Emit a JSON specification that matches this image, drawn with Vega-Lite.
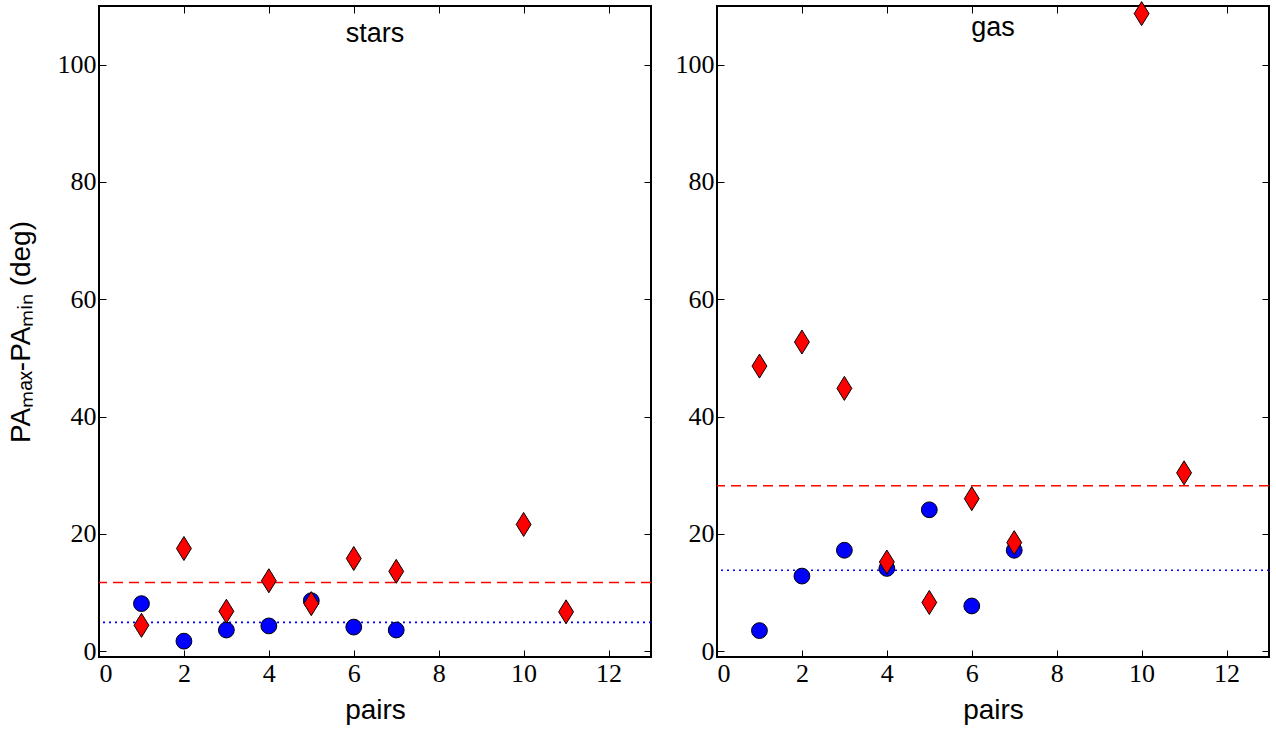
{
  "$schema": "https://vega.github.io/schema/vega-lite/v6.json",
  "background": "white",
  "padding": {"left": 6, "top": -2, "right": 5, "bottom": 5},
  "bounds": "flush",
  "spacing": 66,
  "datasets": {
    "points": [
      {"panel": "stars", "series": "circle", "x": 1, "y": 8.1},
      {"panel": "stars", "series": "circle", "x": 2, "y": 1.7},
      {"panel": "stars", "series": "circle", "x": 3, "y": 3.6},
      {"panel": "stars", "series": "circle", "x": 4, "y": 4.3},
      {"panel": "stars", "series": "circle", "x": 5, "y": 8.6},
      {"panel": "stars", "series": "circle", "x": 6, "y": 4.1},
      {"panel": "stars", "series": "circle", "x": 7, "y": 3.6},
      {"panel": "stars", "series": "diamond", "x": 1, "y": 4.4},
      {"panel": "stars", "series": "diamond", "x": 2, "y": 17.5},
      {"panel": "stars", "series": "diamond", "x": 3, "y": 6.8},
      {"panel": "stars", "series": "diamond", "x": 4, "y": 12.0},
      {"panel": "stars", "series": "diamond", "x": 5, "y": 8.1},
      {"panel": "stars", "series": "diamond", "x": 6, "y": 15.8},
      {"panel": "stars", "series": "diamond", "x": 7, "y": 13.6},
      {"panel": "stars", "series": "diamond", "x": 10, "y": 21.6},
      {"panel": "stars", "series": "diamond", "x": 11, "y": 6.7},
      {"panel": "gas", "series": "circle", "x": 1, "y": 3.5},
      {"panel": "gas", "series": "circle", "x": 2, "y": 12.8},
      {"panel": "gas", "series": "circle", "x": 3, "y": 17.2},
      {"panel": "gas", "series": "circle", "x": 4, "y": 14.1},
      {"panel": "gas", "series": "circle", "x": 5, "y": 24.1},
      {"panel": "gas", "series": "circle", "x": 6, "y": 7.7},
      {"panel": "gas", "series": "circle", "x": 7, "y": 17.2},
      {"panel": "gas", "series": "diamond", "x": 1, "y": 48.6},
      {"panel": "gas", "series": "diamond", "x": 2, "y": 52.7},
      {"panel": "gas", "series": "diamond", "x": 3, "y": 44.8},
      {"panel": "gas", "series": "diamond", "x": 4, "y": 15.2},
      {"panel": "gas", "series": "diamond", "x": 5, "y": 8.3},
      {"panel": "gas", "series": "diamond", "x": 6, "y": 26.0},
      {"panel": "gas", "series": "diamond", "x": 7, "y": 18.5},
      {"panel": "gas", "series": "diamond", "x": 10, "y": 108.7},
      {"panel": "gas", "series": "diamond", "x": 11, "y": 30.4}
    ],
    "lines": [
      {"panel": "stars", "series": "circle", "y": 4.9},
      {"panel": "stars", "series": "diamond", "y": 11.7},
      {"panel": "gas", "series": "circle", "y": 13.8},
      {"panel": "gas", "series": "diamond", "y": 28.2}
    ]
  },
  "config": {
    "view": {"stroke": "black", "strokeWidth": 2},
    "axis": {
      "domain": false,
      "grid": false,
      "tickColor": "black",
      "tickSize": -7,
      "tickWidth": 1,
      "labelFont": "Liberation Serif",
      "labelFontSize": 26,
      "labelColor": "black",
      "labelPadding": 10,
      "titleFont": "Liberation Sans",
      "titleFontSize": 28,
      "titleFontWeight": "normal",
      "titleColor": "black"
    },
    "title": {"font": "Liberation Sans", "fontSize": 27, "fontWeight": "normal", "color": "black", "anchor": "middle", "offset": -42}
  },
  "hconcat": [
    {
      "width": 552,
      "height": 651,
      "title": "stars",
      "resolve": {"axis": {"x": "independent", "y": "independent"}},
      "layer": [
        {
          "data": {"name": "lines"},
          "transform": [{"filter": "datum.panel === 'stars' && datum.series === 'circle'"}],
          "mark": {"type": "rule", "color": "#0000ff", "strokeDash": [2, 4], "strokeWidth": 1.6},
          "encoding": {"y": {"field": "y", "type": "quantitative", "scale": {"domain": [-1, 110], "nice": false, "zero": false}, "axis": null}}
        },
        {
          "data": {"name": "lines"},
          "transform": [{"filter": "datum.panel === 'stars' && datum.series === 'diamond'"}],
          "mark": {"type": "rule", "color": "#ff0000", "strokeDash": [10, 6], "strokeWidth": 1.6},
          "encoding": {"y": {"field": "y", "type": "quantitative", "axis": null}}
        },
        {
          "data": {"name": "points"},
          "transform": [{"filter": "datum.panel === 'stars'"}],
          "mark": {"type": "point", "filled": true, "stroke": "black", "strokeWidth": 1, "opacity": 1},
          "encoding": {
            "x": {"field": "x", "type": "quantitative", "scale": {"domain": [0, 13], "nice": false, "zero": false}, "axis": {"values": [0, 2, 4, 6, 8, 10, 12], "title": "pairs", "titlePadding": 10}},
            "y": {"field": "y", "type": "quantitative", "axis": {"values": [0, 20, 40, 60, 80, 100], "title": "PAₘₐₓ-PAₘᵢₙ (deg)", "titlePadding": 22}},
            "shape": {"field": "series", "type": "nominal", "scale": {"domain": ["circle", "diamond"], "range": ["circle", "M0,-1L0.62,0L0,1L-0.62,0Z"]}, "legend": null},
            "fill": {"field": "series", "type": "nominal", "scale": {"domain": ["circle", "diamond"], "range": ["#0000ff", "#ff0000"]}, "legend": null},
            "size": {"field": "series", "type": "nominal", "scale": {"domain": ["circle", "diamond"], "range": [250, 576]}, "legend": null}
          }
        },
        {
          "data": {"name": "points"},
          "transform": [{"filter": "datum.panel === 'stars'"}],
          "mark": {"type": "point", "opacity": 0},
          "encoding": {
            "x": {"field": "x", "type": "quantitative", "axis": {"orient": "top", "values": [0, 2, 4, 6, 8, 10, 12], "labels": false, "title": null}},
            "y": {"field": "y", "type": "quantitative", "axis": {"orient": "right", "values": [0, 20, 40, 60, 80, 100], "labels": false, "title": null}}
          }
        }
      ]
    },
    {
      "width": 552,
      "height": 651,
      "title": "gas",
      "resolve": {"axis": {"x": "independent", "y": "independent"}},
      "layer": [
        {
          "data": {"name": "lines"},
          "transform": [{"filter": "datum.panel === 'gas' && datum.series === 'circle'"}],
          "mark": {"type": "rule", "color": "#0000ff", "strokeDash": [2, 4], "strokeWidth": 1.6},
          "encoding": {"y": {"field": "y", "type": "quantitative", "scale": {"domain": [-1, 110], "nice": false, "zero": false}, "axis": null}}
        },
        {
          "data": {"name": "lines"},
          "transform": [{"filter": "datum.panel === 'gas' && datum.series === 'diamond'"}],
          "mark": {"type": "rule", "color": "#ff0000", "strokeDash": [10, 6], "strokeWidth": 1.6},
          "encoding": {"y": {"field": "y", "type": "quantitative", "axis": null}}
        },
        {
          "data": {"name": "points"},
          "transform": [{"filter": "datum.panel === 'gas'"}],
          "mark": {"type": "point", "filled": true, "stroke": "black", "strokeWidth": 1, "opacity": 1},
          "encoding": {
            "x": {"field": "x", "type": "quantitative", "scale": {"domain": [0, 13], "nice": false, "zero": false}, "axis": {"values": [0, 2, 4, 6, 8, 10, 12], "title": "pairs", "titlePadding": 10}},
            "y": {"field": "y", "type": "quantitative", "axis": {"values": [0, 20, 40, 60, 80, 100], "title": null}},
            "shape": {"field": "series", "type": "nominal", "scale": {"domain": ["circle", "diamond"], "range": ["circle", "M0,-1L0.62,0L0,1L-0.62,0Z"]}, "legend": null},
            "fill": {"field": "series", "type": "nominal", "scale": {"domain": ["circle", "diamond"], "range": ["#0000ff", "#ff0000"]}, "legend": null},
            "size": {"field": "series", "type": "nominal", "scale": {"domain": ["circle", "diamond"], "range": [250, 576]}, "legend": null}
          }
        },
        {
          "data": {"name": "points"},
          "transform": [{"filter": "datum.panel === 'gas'"}],
          "mark": {"type": "point", "opacity": 0},
          "encoding": {
            "x": {"field": "x", "type": "quantitative", "axis": {"orient": "top", "values": [0, 2, 4, 6, 8, 10, 12], "labels": false, "title": null}},
            "y": {"field": "y", "type": "quantitative", "axis": {"orient": "right", "values": [0, 20, 40, 60, 80, 100], "labels": false, "title": null}}
          }
        }
      ]
    }
  ]
}
